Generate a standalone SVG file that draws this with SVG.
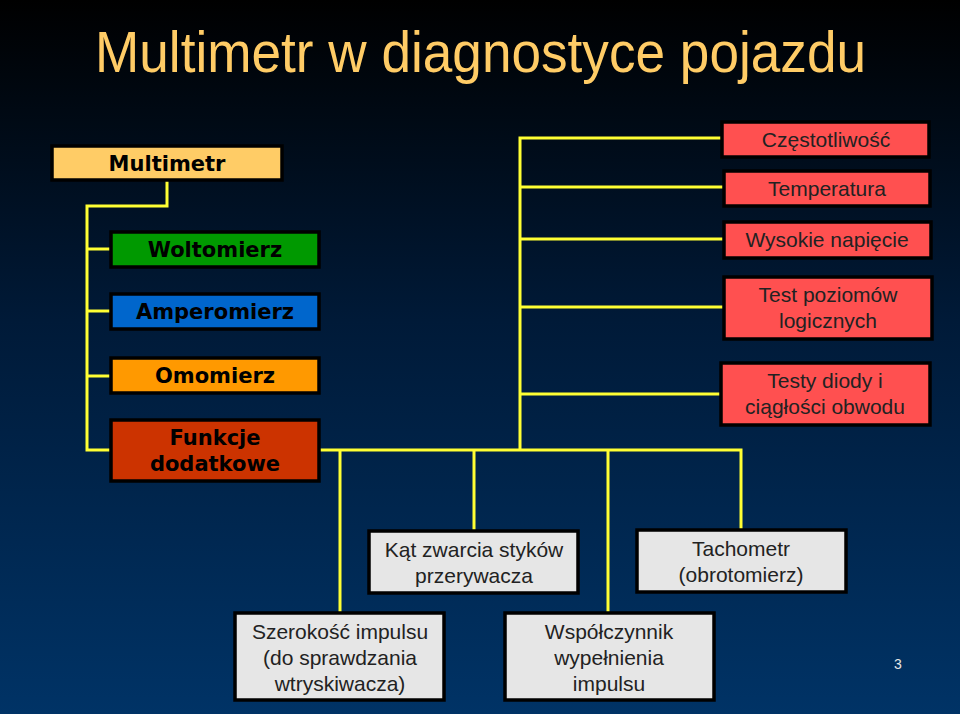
<svg xmlns="http://www.w3.org/2000/svg" width="960" height="714" viewBox="0 0 960 714">
<defs>
<linearGradient id="bg" x1="0" y1="0" x2="0" y2="1">
<stop offset="0" stop-color="#000000"/>
<stop offset="0.45" stop-color="#001a38"/>
<stop offset="1" stop-color="#003366"/>
</linearGradient>
</defs>
<style>
.b{stroke:#000;stroke-width:3.5}
.bt{font-family:"DejaVu Sans",Verdana,sans-serif;font-weight:bold;font-size:21px;fill:#000;text-anchor:middle}
.rt{font-family:"Liberation Sans",Arial,sans-serif;font-size:21px;fill:#222;text-anchor:middle}
.red{fill:#FF5050}
.gr{fill:#E6E6E6}
.c{stroke:#FFFF33;stroke-width:3;fill:none}
</style>
<rect width="960" height="714" fill="url(#bg)"/>
<text x="95" y="72" font-family="'Liberation Sans',Arial,sans-serif" font-size="58" fill="#FFCC66" textLength="771" lengthAdjust="spacingAndGlyphs">Multimetr w diagnostyce pojazdu</text>
<g id="connectors">
<polyline class="c" points="167,180 167,206 87,206 87,450 110,450"/>
<line class="c" x1="87" y1="249" x2="110" y2="249"/>
<line class="c" x1="87" y1="311" x2="110" y2="311"/>
<line class="c" x1="87" y1="376" x2="110" y2="376"/>
<polyline class="c" points="319,450 741,450 741,530"/>
<polyline class="c" points="722,138 520,138 520,450"/>
<line class="c" x1="520" y1="187" x2="724" y2="187"/>
<line class="c" x1="520" y1="239" x2="724" y2="239"/>
<line class="c" x1="520" y1="307" x2="724" y2="307"/>
<line class="c" x1="520" y1="394" x2="721" y2="394"/>
<line class="c" x1="340" y1="450" x2="340" y2="613"/>
<line class="c" x1="474" y1="450" x2="474" y2="531"/>
<line class="c" x1="608" y1="450" x2="608" y2="613"/>
</g>
<g id="multimetr"><rect class="b" x="52" y="146" width="230" height="34" fill="#FFCC66"/><text class="bt" x="167" y="171">Multimetr</text></g>
<g id="woltomierz"><rect class="b" x="111" y="232" width="208" height="35" fill="#009900"/><text class="bt" x="215" y="257">Woltomierz</text></g>
<g id="amperomierz"><rect class="b" x="111" y="294" width="208" height="35" fill="#0066CC"/><text class="bt" x="215" y="319">Amperomierz</text></g>
<g id="omomierz"><rect class="b" x="111" y="358" width="208" height="35" fill="#FF9900"/><text class="bt" x="215" y="383">Omomierz</text></g>
<g id="funkcje"><rect class="b" x="111" y="420" width="208" height="61" fill="#CC3300"/><text class="bt" x="215" y="445">Funkcje</text><text class="bt" x="215" y="471">dodatkowe</text></g>
<g id="czestotliwosc"><rect class="b red" x="722" y="122" width="207" height="35"/><text class="rt" x="826" y="147">Częstotliwość</text></g>
<g id="temperatura"><rect class="b red" x="724" y="171" width="206" height="35"/><text class="rt" x="827" y="196">Temperatura</text></g>
<g id="wysokie"><rect class="b red" x="724" y="222" width="207" height="36"/><text class="rt" x="827" y="247">Wysokie napięcie</text></g>
<g id="test-poziomow"><rect class="b red" x="724" y="277" width="208" height="62"/><text class="rt" x="828" y="302">Test poziomów</text><text class="rt" x="828" y="328">logicznych</text></g>
<g id="testy-diody"><rect class="b red" x="721" y="363" width="209" height="62"/><text class="rt" x="825" y="388">Testy diody i</text><text class="rt" x="825" y="414">ciągłości obwodu</text></g>
<g id="kat"><rect class="b gr" x="369" y="531" width="209" height="62"/><text class="rt" x="474" y="557">Kąt zwarcia styków</text><text class="rt" x="474" y="583">przerywacza</text></g>
<g id="tachometr"><rect class="b gr" x="637" y="530" width="209" height="62"/><text class="rt" x="741" y="556">Tachometr</text><text class="rt" x="741" y="582">(obrotomierz)</text></g>
<g id="szerokosc"><rect class="b gr" x="235" y="613" width="209" height="87"/><text class="rt" x="340" y="639">Szerokość impulsu</text><text class="rt" x="340" y="665">(do sprawdzania</text><text class="rt" x="340" y="691">wtryskiwacza)</text></g>
<g id="wspolczynnik"><rect class="b gr" x="505" y="613" width="209" height="87"/><text class="rt" x="609" y="639">Współczynnik</text><text class="rt" x="609" y="665">wypełnienia</text><text class="rt" x="609" y="691">impulsu</text></g>
<text x="898" y="669" font-family="'Liberation Sans',Arial,sans-serif" font-size="14" fill="#E6E6E6" text-anchor="middle">3</text>
</svg>
